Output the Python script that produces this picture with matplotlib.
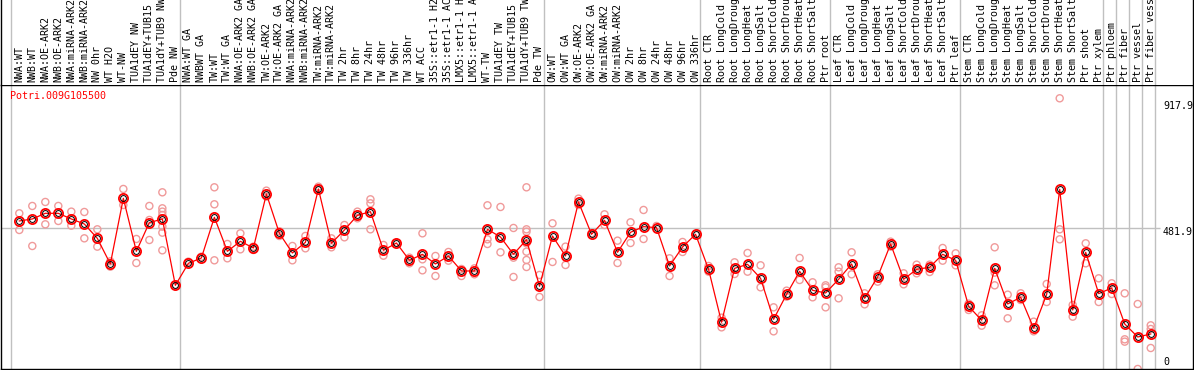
import matplotlib
matplotlib.use("Agg")
import matplotlib.pyplot as plt

# sample labels, in plotting order
labels = [
    "NWA:WT", "NWB:WT", "NWA:OE-ARK2", "NWB:OE-ARK2", "NWA:miRNA-ARK2", "NWB:miRNA-ARK2",
    "NW 0hr", "WT H2O", "WT-NW", "TUA1dEY NW", "TUA1dEY+TUB15 NW", "TUA1dY+TUB9 NW", "Pde NW",
    "NWA:WT GA", "NWBWT GA", "TW:WT", "TW:WT GA", "NWA:OE-ARK2 GA", "NWB:OE-ARK2 GA",
    "TW:OE-ARK2", "TW:OE-ARK2 GA", "NWA:miRNA-ARK2 GA", "NWB:miRNA-ARK2 GA", "TW:miRNA-ARK2",
    "TW:miRNA-ARK2 GA", "TW 2hr", "TW 8hr", "TW 24hr", "TW 48hr", "TW 96hr", "TW 336hr",
    "WT ACC", "35S::etr1-1 H2O", "35S::etr1-1 ACC", "LMX5::etr1-1 H2O", "LMX5::etr1-1 ACC",
    "WT-TW", "TUA1dEY TW", "TUA1dEY+TUB15 TW", "TUA1dY+TUB9 TW", "Pde TW",
    "OW:WT", "OW:WT GA", "OW:OE-ARK2", "OW:OE-ARK2 GA", "OW:miRNA-ARK2", "OW:miRNA-ARK2 GA",
    "OW 2hr", "OW 8hr", "OW 24hr", "OW 48hr", "OW 96hr", "OW 336hr",
    "Root CTR", "Root LongCold", "Root LongDrought", "Root LongHeat", "Root LongSalt",
    "Root ShortCold", "Root ShortDrought", "Root ShortHeat", "Root ShortSalt", "Ptr root",
    "Leaf CTR", "Leaf LongCold", "Leaf LongDrought", "Leaf LongHeat", "Leaf LongSalt",
    "Leaf ShortCold", "Leaf ShortDrought", "Leaf ShortHeat", "Leaf ShortSalt", "Ptr leaf",
    "Stem CTR", "Stem LongCold", "Stem LongDrought", "Stem LongHeat", "Stem LongSalt",
    "Stem ShortCold", "Stem ShortDrought", "Stem ShortHeat", "Stem ShortSalt", "Ptr shoot",
    "Ptr xylem", "Ptr phloem", "Ptr fiber", "Ptr vessel", "Ptr fiber vessel",
]

# first sample of each block (gray separators)
group_starts = [0, 13, 41, 53, 63, 73, 84, 85, 86, 87, 88]

# mean expression per sample
means = [
    506.5, 513.2, 532.2, 532.2, 513.2, 496.4, 448.3, 362.3, 582.5, 404.7, 500.9, 513.2, 290.7,
    364.5, 382.4, 518.8, 404.7, 438.3, 415.9, 597.0, 465.1, 399.1, 434.9, 613.8, 431.6, 476.3,
    525.5, 537.8, 408.1, 432.7, 374.6, 394.7, 362.3, 389.1, 338.8, 338.8, 478.5, 452.8, 394.7,
    443.9, 287.4,
    456.2, 389.1, 570.2, 461.8, 508.7, 401.4, 468.5, 487.5, 484.1, 355.5, 419.3, 461.8,
    344.4, 166.6, 347.7, 361.1, 314.2, 176.7, 260.5, 337.7, 273.9, 265.0,
    310.8, 362.3, 247.1, 318.7, 429.3, 310.8, 344.4, 351.1, 394.7, 374.6,
    220.3, 173.3, 347.7, 228.1, 250.5, 146.5, 260.5, 612.7, 208.0, 401.4, 262.8,
    281.8, 161.0, 117.4, 127.5,
]

# individual replicates per sample
reps = [
    [532.2, 476.3], [556.8, 422.6], [570.2, 495.3], [556.8, 506.5], [537.8, 490.8],
    [536.6, 448.3], [478.5, 420.4], [371.2, 353.3], [613.8, 560.1], [446.1, 365.6],
    [556.8, 509.8, 442.7], [602.6, 548.9, 537.8, 526.6, 487.5, 467.3, 408.1], [290.7],
    [370.1], [386.8], [619.4, 562.4, 374.6], [429.3, 381.3], [465.1, 411.4], [420.4, 409.2],
    [608.2, 588.1], [471.8, 456.2], [422.6, 374.6], [456.2, 414.8], [621.6, 610.4],
    [448.3, 418.2], [493.0, 451.7], [537.8, 515.4], [579.1, 565.7, 478.5], [426.0, 390.2],
    [432.7], [383.5, 364.5], [465.1, 377.9, 341.0], [389.1, 322.0], [402.5, 373.4],
    [345.5, 322.0], [347.7, 327.6], [559.0, 445.0, 429.3], [553.4, 401.4],
    [483.0, 383.5, 318.7], [619.4, 478.5, 470.7, 431.6, 403.6, 375.7, 352.2], [325.4, 251.6],
    [498.6, 369.0], [420.4, 358.9], [581.4, 560.1], [465.1], [528.8, 493.0], [440.5, 365.6],
    [502.0, 432.7], [543.4, 446.1], [489.7], [381.3, 322.0], [436.0, 402.5], [461.8],
    [355.5, 336.5], [182.3, 149.8], [367.8, 328.7], [399.1, 336.5], [357.8, 284.0],
    [216.9, 136.4], [272.8, 252.7], [382.4, 308.6], [300.8, 250.5], [290.7, 284.0, 216.9],
    [351.1, 336.5, 247.1], [401.4, 327.6], [263.9, 227.0], [327.6, 303.0], [437.2, 420.4],
    [331.0, 294.1], [360.0, 331.0], [360.0, 335.4], [415.9, 373.4], [398.0, 357.8],
    [229.2, 208.0], [190.1, 155.4], [418.2, 333.2, 290.7], [259.4, 180.0], [263.9, 241.5],
    [168.8, 136.4], [295.2, 234.8], [917.9, 478.5, 445.0], [224.7, 185.6], [431.6, 364.5],
    [314.2, 234.8], [297.4, 261.6], [263.9, 109.6, 101.8], [228.1, 10.1],
    [156.5, 144.2, 80.5],
]

gene = "Potri.009G105500"
ticks = [917.9, 481.9, 0]
tick_offsets = [-8, -4, 10]

W, H = 1194, 370
fig = plt.figure(figsize=(W / 100, H / 100), dpi=100)
mono = "DejaVu Sans Mono"
fs = 7.2
grid_c = "#c0c0c0"

x0, x1 = -1.407, 90.25
ax = fig.add_axes([1 / W, 1 / H, 1192 / W, 284 / H])
hd = fig.add_axes([1 / W, 285 / H, 1192 / W, 85 / H], sharex=ax)
ax.set_xlim(x0, x1)
ax.set_ylim(10.06, 962.5)

for a in (ax, hd):
    a.set_xticks([])
    a.set_yticks([])
    for s in a.spines.values():
        s.set_color("black")
        s.set_linewidth(1.0)
    for g in group_starts:
        a.axvline(g - 0.66, color=grid_c, lw=1.0, zorder=0)
hd.spines["top"].set_visible(False)
hd.spines["bottom"].set_visible(False)
hd.set_ylim(0, 85)

ax.hlines(481.9, x0, 87.7, color=grid_c, lw=1.0, zorder=0)

xs = list(range(len(labels)))
for k, lab in enumerate(labels):
    hd.text(k, 3, lab, rotation=90, ha="center", va="bottom",
            family=mono, fontsize=fs, color="black")

rx, ry = [], []
for k, r in enumerate(reps):
    rx += [k] * len(r)
    ry += r
ax.scatter(rx, ry, s=26, facecolors="none", edgecolors="#f09a9a", linewidths=1.0, zorder=2)

ax.plot(xs, means, color="red", lw=0.9, zorder=3)
ax.plot(xs, means, ls="none", marker="o", ms=6.6, mfc="none", mec="red", mew=1.3, zorder=4)
ax.plot(xs, means, ls="none", marker="o", ms=4.2, mfc="none", mec="black", mew=0.7, zorder=5)

ax.text(-0.72, 0.961, gene, transform=ax.get_xaxis_transform(), color="red",
        family=mono, fontsize=fs, ha="left", va="center")
for t, off in zip(ticks, tick_offsets):
    ax.annotate(f"{t:g}", xy=(87.94, t), xytext=(0, off), textcoords="offset pixels",
                ha="left", va="center", family=mono, fontsize=fs, annotation_clip=False)

fig.savefig("out.png", dpi=100)
